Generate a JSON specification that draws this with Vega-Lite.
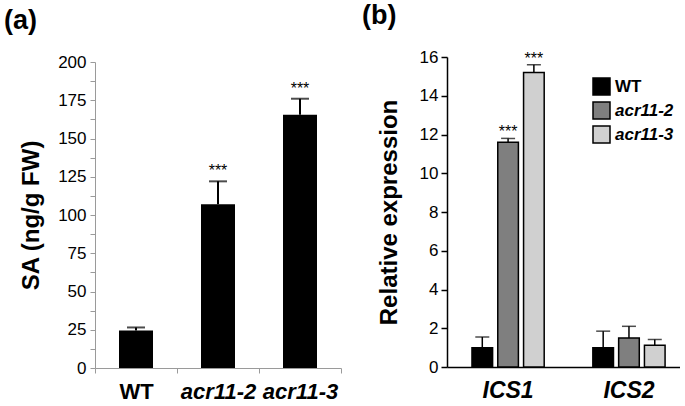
{
  "$schema": "https://vega.github.io/schema/vega-lite/v6.json",
  "padding": {"left": 4, "top": 2, "right": 0, "bottom": 0},
  "spacing": 20,
  "resolve": {"legend": {"fill": "independent"}, "scale": {"fill": "independent"}},
  "config": {
    "font": "Liberation Sans",
    "view": {"stroke": null},
    "axis": {"grid": false, "labelColor": "black", "titleColor": "black", "labelOverlap": false},
    "title": {"font": "Liberation Sans", "fontWeight": "bold", "fontSize": 27, "anchor": "start", "frame": "group", "color": "black"}
  },
  "hconcat": [
    {
      "width": 246,
      "height": 311,
      "title": {"text": "(a)", "dx": -91, "offset": 18},
      "data": {"values": [
        {"genotype": "WT", "mean": 24.5, "upper": 26.5, "sig": ""},
        {"genotype": "acr11-2", "mean": 107, "upper": 122, "sig": "***"},
        {"genotype": "acr11-3", "mean": 165.5, "upper": 176, "sig": "***"}
      ]},
      "encoding": {
        "x": {
          "field": "genotype", "type": "nominal", "sort": null,
          "scale": {"paddingInner": 0, "paddingOuter": 0},
          "axis": {
            "title": null, "labelAngle": 0, "domainColor": "#9a9a9a", "tickColor": "#9a9a9a",
            "tickSize": 5, "tickBand": "extent", "labelFontSize": 22, "labelFontWeight": "bold",
            "labelFontStyle": {"condition": {"test": "datum.label == 'WT'", "value": "normal"}, "value": "italic"},
            "labelPadding": 8
          }
        },
        "y": {
          "field": "mean", "type": "quantitative",
          "scale": {"domain": [0, 200], "range": [311, 5], "nice": false},
          "axis": {
            "title": "SA (ng/g FW)", "titleFontSize": 24, "titleFontWeight": "bold", "titlePadding": 14,
            "values": [0, 12.5, 25, 37.5, 50, 62.5, 75, 87.5, 100, 112.5, 125, 137.5, 150, 162.5, 175, 187.5, 200],
            "format": "d",
            "labelExpr": "datum.value % 25 == 0 ? datum.label : ''",
            "labelFontSize": 17, "labelPadding": 4, "tickSize": 5, "labelOverlap": false,
            "domainColor": "#9a9a9a", "tickColor": "#9a9a9a"
          }
        }
      },
      "layer": [
        {
          "mark": {"type": "bar", "color": "black", "width": 34},
          "encoding": {}
        },
        {
          "mark": {"type": "rule", "color": "black", "strokeWidth": 2},
          "encoding": {"y2": {"field": "upper"}}
        },
        {
          "mark": {"type": "tick", "orient": "horizontal", "color": "black", "size": 18, "thickness": 2},
          "encoding": {"y": {"field": "upper", "type": "quantitative", "title": "SA (ng/g FW)"}}
        },
        {
          "mark": {"type": "text", "fontSize": 16, "baseline": "alphabetic", "dy": -5, "color": "black"},
          "encoding": {"y": {"field": "upper", "type": "quantitative", "title": "SA (ng/g FW)"}, "text": {"field": "sig"}}
        }
      ]
    },
    {
      "width": 233,
      "height": 310,
      "title": {"text": "(b)", "dx": -85, "offset": 18},
      "data": {"values": [
        {"gene": "ICS1", "genotype": "WT", "mean": 1.0, "upper": 1.55, "sig": ""},
        {"gene": "ICS1", "genotype": "acr11-2", "mean": 11.6, "upper": 11.8, "sig": "***"},
        {"gene": "ICS1", "genotype": "acr11-3", "mean": 15.2, "upper": 15.6, "sig": "***"},
        {"gene": "ICS2", "genotype": "WT", "mean": 1.0, "upper": 1.85, "sig": ""},
        {"gene": "ICS2", "genotype": "acr11-2", "mean": 1.5, "upper": 2.1, "sig": ""},
        {"gene": "ICS2", "genotype": "acr11-3", "mean": 1.12, "upper": 1.42, "sig": ""}
      ]},
      "encoding": {
        "x": {
          "field": "gene", "type": "nominal", "sort": null,
          "scale": {"paddingInner": 0.4025, "paddingOuter": 0.165, "align": 0.626},
          "axis": {
            "title": null, "labelAngle": 0, "ticks": false, "domainColor": "black", "domainWidth": 1.5,
            "labelFontSize": 23, "labelFontWeight": "bold", "labelFontStyle": "italic", "labelPadding": 12
          }
        },
        "xOffset": {"field": "genotype", "type": "nominal", "sort": ["WT", "acr11-2", "acr11-3"], "scale": {"paddingInner": 0.2, "paddingOuter": 0}},
        "y": {
          "field": "mean", "type": "quantitative",
          "scale": {"domain": [0, 16], "nice": false},
          "axis": {
            "title": "Relative expression", "titleFontSize": 24, "titleFontWeight": "bold", "titlePadding": 18,
            "values": [0, 2, 4, 6, 8, 10, 12, 14, 16], "labelOverlap": false,
            "labelFontSize": 17, "labelPadding": 3, "tickSize": 6,
            "domainColor": "black", "tickColor": "black", "domainWidth": 1.5, "tickWidth": 1.5
          }
        }
      },
      "layer": [
        {
          "mark": {"type": "bar", "stroke": "black", "strokeWidth": 1.5},
          "encoding": {
            "fill": {
              "field": "genotype", "type": "nominal",
              "scale": {"domain": ["WT", "acr11-2", "acr11-3"], "range": ["#000000", "#7f7f7f", "#d0d0d0"]},
              "legend": {
                "title": null, "orient": "none", "legendX": 145, "legendY": 20, "padding": 0,
                "symbolType": "square", "symbolSize": 289, "symbolStrokeColor": "black", "symbolStrokeWidth": 1.5,
                "labelFontSize": 17, "labelFontWeight": "bold", "labelOffset": 4, "rowPadding": 1,
                "labelColor": "black",
                "encode": {"labels": {"update": {"fontStyle": {"signal": "datum.label == 'WT' ? 'normal' : 'italic'"}}}}
              }
            }
          }
        },
        {
          "mark": {"type": "rule", "color": "black", "strokeWidth": 1.5},
          "encoding": {"y2": {"field": "upper"}}
        },
        {
          "mark": {"type": "tick", "orient": "horizontal", "color": "black", "size": 14, "thickness": 1.5},
          "encoding": {"y": {"field": "upper", "type": "quantitative", "title": "Relative expression"}}
        },
        {
          "mark": {"type": "text", "fontSize": 16, "baseline": "alphabetic", "dy": -1, "color": "black"},
          "encoding": {"y": {"field": "upper", "type": "quantitative", "title": "Relative expression"}, "text": {"field": "sig"}}
        }
      ]
    }
  ]
}
